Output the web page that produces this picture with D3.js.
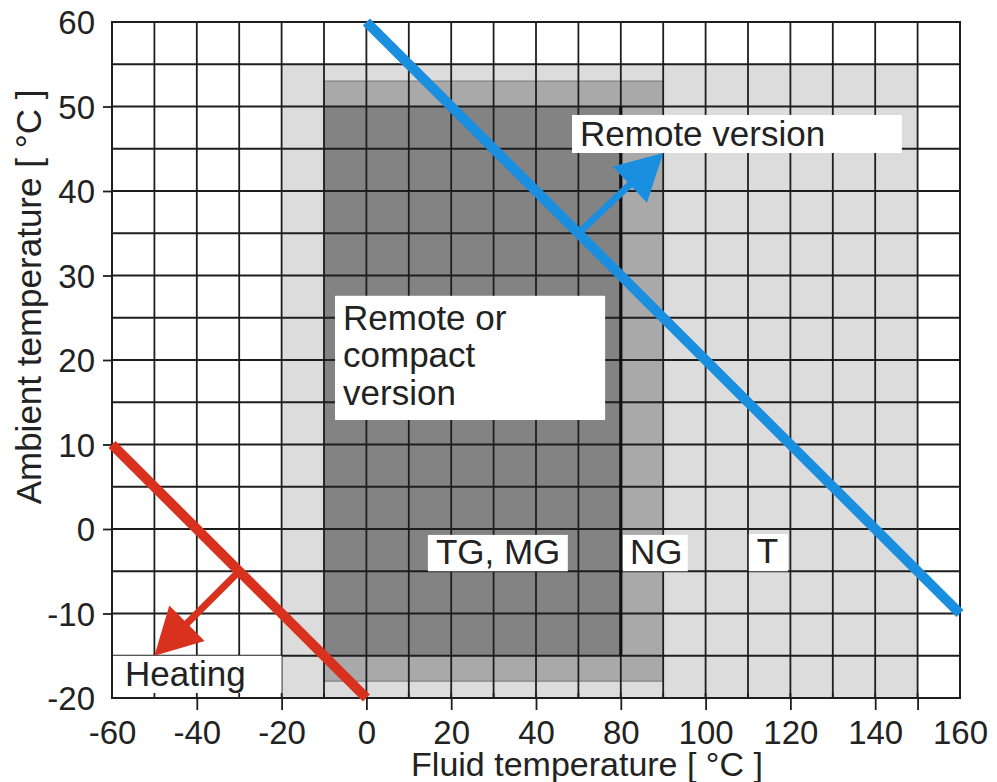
<!DOCTYPE html>
<html>
<head>
<meta charset="utf-8">
<script src="https://cdn.jsdelivr.net/npm/d3@7"></script>
<style>
  body { margin: 0; background: #fff; }
  svg { display: block; }
  text { font-family: "Liberation Sans", Arial, Helvetica, sans-serif; fill: #222; }
</style>
</head>
<body>
<svg id="chart" width="997" height="782"></svg>
<script>
// Fluid-temperature axis as printed (the printed scale steps from 40 straight to 80)
const xTickLabels = [-60, -40, -20, 0, 20, 40, 80, 100, 120, 140, 160];
const xBreaks = [-60, 40, 80, 160];
const xGridValues = [-60, -50, -40, -30, -20, -10, 0, 10, 20, 30, 40, 60, 80, 90, 100, 110, 120, 130, 140, 150, 160];
const xTickMarks = [-40, -20, 0, 20, 40, 80, 100, 120, 140, 150];

// Ambient-temperature axis
const yTickLabels = [-20, -10, 0, 10, 20, 30, 40, 50, 60];
const yTickMarks = [-10, 0, 10, 20, 30, 40, 50];
const yGridValues = [-20, -15, -10, -5, 0, 5, 10, 15, 20, 25, 30, 35, 40, 45, 50, 55, 60];

// Operating ranges of the sensor versions
const rangeNames = ["T", "NG", "TG, MG"];
const rangeFluidMin = [-20, -10, -10];
const rangeFluidMax = [150, 90, 80];
const rangeAmbientMin = [-20, -18, -15];
const rangeAmbientMax = [55, 53, 50];

// Limit lines
const remoteLimitFluid = [0, 160];
const remoteLimitAmbient = [60, -10];
const heatingLimitFluid = [-60, 0];
const heatingLimitAmbient = [10, -20];

// Direction arrows (start on the limit line, end at the tip)
const remoteArrowFluid = [60, 90];
const remoteArrowAmbient = [35, 44.5];
const heatingArrowFluid = [-30, -50];
const heatingArrowAmbient = [-5, -15];

const svg = d3.select("#chart");
const W = 997, H = 782;
const plotL = 112, plotR = 960, plotT = 22, plotB = 698;
const col = (plotR - plotL) / 20;

const x = d3.scaleLinear()
  .domain(xBreaks)
  .range([plotL, plotL + 10 * col, plotL + 12 * col, plotR]);
const y = d3.scaleLinear().domain([-20, 60]).range([plotB, plotT]);
const fmt = d => String(d);

svg.append("rect").attr("width", W).attr("height", H).attr("fill", "#fff");

// Range areas, largest first
const rangeFill = ["#dcdcdc", "#a9a9a9", "#838383"];
const ranges = rangeNames.map((n, i) => ({
  name: n, x0: rangeFluidMin[i], x1: rangeFluidMax[i],
  y0: rangeAmbientMin[i], y1: rangeAmbientMax[i], fill: rangeFill[i]
}));
svg.append("g").selectAll("rect").data(ranges).join("rect")
  .attr("x", d => x(d.x0))
  .attr("y", d => y(d.y1))
  .attr("width", d => x(d.x1) - x(d.x0))
  .attr("height", d => y(d.y0) - y(d.y1))
  .attr("fill", d => d.fill)
  .attr("stroke", (d, i) => i === 1 ? "#8c8c8c" : "none")
  .attr("stroke-width", 1.5);

// Grid
const grid = svg.append("g").attr("stroke", "#1e1e1e").attr("stroke-width", 1.8);
grid.selectAll("line.v").data(xGridValues).join("line").attr("class", "v")
  .attr("x1", d => x(d)).attr("x2", d => x(d))
  .attr("y1", plotT).attr("y2", plotB);
grid.selectAll("line.h").data(yGridValues).join("line").attr("class", "h")
  .attr("y1", d => y(d)).attr("y2", d => y(d))
  .attr("x1", plotL).attr("x2", plotR);

// Right border of the TG, MG range
const dark = ranges[2];
svg.append("line")
  .attr("x1", x(dark.x1)).attr("x2", x(dark.x1))
  .attr("y1", y(dark.y1)).attr("y2", y(dark.y0))
  .attr("stroke", "#111").attr("stroke-width", 3.2);

// Label boxes: [fluid left, fluid right, ambient top, ambient bottom]
const boxes = [
  { lines: ["Remote version"], b: [57, 146.3, 49, 44.5], dx: 8, base: 31 },
  { lines: ["Remote or", "compact", "version"], b: [-7.4, 72.6, 27.6, 12.9], dx: 8, base: 34, lh: 37.5 },
  { lines: ["TG, MG"], b: [14.5, 55, -0.7, -5], dx: 8, base: 29 },
  { lines: ["NG"], b: [80.5, 95.8, -0.7, -5], dx: 7, base: 29 },
  { lines: ["T"], b: [110.2, 119.4, -0.6, -5], dx: 8, base: 29 },
  { lines: ["Heating"], b: [-60, -20, -15, -20], dx: 13, base: 30 }
];
const bg = svg.append("g").selectAll("g").data(boxes).join("g");
bg.append("rect")
  .attr("x", d => x(d.b[0]))
  .attr("y", d => y(d.b[2]))
  .attr("width", d => x(d.b[1]) - x(d.b[0]))
  .attr("height", d => y(d.b[3]) - y(d.b[2]))
  .attr("fill", "#fff");
bg.each(function (d) {
  const g = d3.select(this);
  d.lines.forEach((t, i) => {
    g.append("text")
      .attr("x", x(d.b[0]) + d.dx)
      .attr("y", y(d.b[2]) + d.base + i * (d.lh || 0))
      .attr("font-size", 35)
      .text(t);
  });
});

// Inward stubs along the bottom edge
svg.append("g").selectAll("line").data(xGridValues).join("line")
  .attr("x1", d => x(d)).attr("x2", d => x(d))
  .attr("y1", plotB).attr("y2", plotB - 5)
  .attr("stroke", "#1e1e1e").attr("stroke-width", 1.8);

// Frame
svg.append("rect")
  .attr("x", plotL).attr("y", plotT)
  .attr("width", plotR - plotL).attr("height", plotB - plotT)
  .attr("fill", "none").attr("stroke", "#1e1e1e").attr("stroke-width", 2);

// Axes
const xAxisLabels = svg.append("g").attr("transform", `translate(0,${plotB})`)
  .call(d3.axisBottom(x).tickValues(xTickLabels).tickSize(0).tickPadding(22.5).tickFormat(fmt));
const xAxisTicks = svg.append("g").attr("transform", `translate(0,${plotB})`)
  .call(d3.axisBottom(x).tickValues(xTickMarks).tickSize(12).tickSizeOuter(0).tickFormat(""));
const yAxisLabels = svg.append("g").attr("transform", `translate(${plotL},0)`)
  .call(d3.axisLeft(y).tickValues(yTickLabels).tickSize(0).tickPadding(17).tickFormat(fmt));
const yAxisTicks = svg.append("g").attr("transform", `translate(${plotL},0)`)
  .call(d3.axisLeft(y).tickValues(yTickMarks).tickSize(9).tickSizeOuter(0).tickFormat(""));
[xAxisLabels, xAxisTicks, yAxisLabels, yAxisTicks].forEach(a => {
  a.select(".domain").remove();
  a.selectAll("line").attr("stroke", "#1e1e1e").attr("stroke-width", 1.8);
  a.selectAll("text").attr("font-size", 33).attr("fill", "#222")
    .attr("font-family", "\"Liberation Sans\", Arial, sans-serif");
});
yAxisLabels.selectAll("text").attr("dy", "0.36em");

// Axis titles
svg.append("text")
  .attr("x", 587).attr("y", 776)
  .attr("text-anchor", "middle").attr("font-size", 34)
  .text("Fluid temperature [ °C ]");
svg.append("text")
  .attr("transform", "translate(41,297) rotate(-90)")
  .attr("text-anchor", "middle").attr("font-size", 35)
  .text("Ambient temperature [ °C ]");

// Limit lines
function limitLine(xs, ys, color) {
  svg.append("line")
    .attr("x1", x(xs[0])).attr("y1", y(ys[0]))
    .attr("x2", x(xs[1])).attr("y2", y(ys[1]))
    .attr("stroke", color).attr("stroke-width", 10);
}
function arrow(xs, ys, color) {
  const x0 = x(xs[0]), y0 = y(ys[0]), x1 = x(xs[1]), y1 = y(ys[1]);
  const len = Math.hypot(x1 - x0, y1 - y0);
  const ux = (x1 - x0) / len, uy = (y1 - y0) / len;
  const head = 46, half = 25;
  const bx = x1 - ux * head, by = y1 - uy * head;
  svg.append("line")
    .attr("x1", x0).attr("y1", y0).attr("x2", bx + ux * 2).attr("y2", by + uy * 2)
    .attr("stroke", color).attr("stroke-width", 7);
  svg.append("path")
    .attr("d", `M${x1},${y1}L${bx - uy * half},${by + ux * half}L${bx + uy * half},${by - ux * half}Z`)
    .attr("fill", color);
}
const blue = "#1b8fdf", red = "#d8321f";
limitLine(remoteLimitFluid, remoteLimitAmbient, blue);
arrow(remoteArrowFluid, remoteArrowAmbient, blue);
limitLine(heatingLimitFluid, heatingLimitAmbient, red);
arrow(heatingArrowFluid, heatingArrowAmbient, red);
</script>
</body>
</html>
